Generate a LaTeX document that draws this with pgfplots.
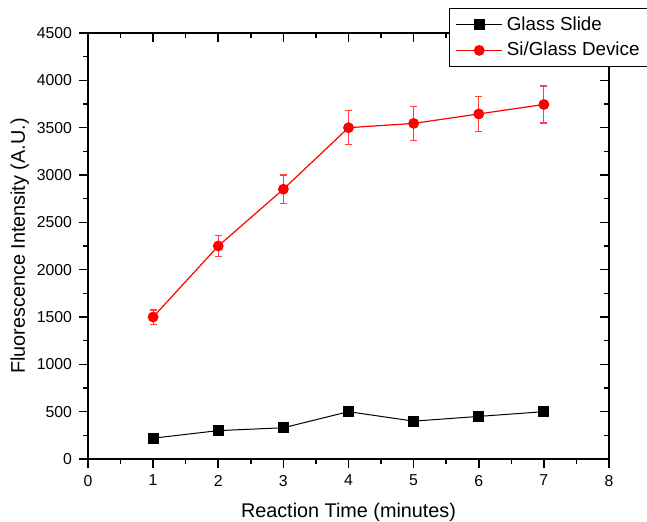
\documentclass[border=0pt]{standalone}
\usepackage{fontspec}
\setmainfont{Liberation Sans}
\usepackage{pgfplots}
\pgfplotsset{compat=1.18}
\begin{document}
\begin{tikzpicture}
\path[use as bounding box] (-44pt,-31pt) rectangle (279.5pt,229.5pt);
\pgfplotsset{frame/.style={
    scale only axis, width=260.5pt, height=213pt,
    xmin=0, xmax=8, ymin=0, ymax=4500,
    xtick={0,...,8}, ytick={0,500,...,4500},
    minor x tick num=1, minor y tick num=1,
    major tick length=4.5pt, minor tick length=2.5pt,
    axis line style={line width=0.9pt},
    every tick/.style={black, line width=0.8pt},
}}
% top and right: ticks inside, no labels
\begin{axis}[frame, xtick pos=right, ytick pos=right, tick align=inside,
    xticklabels={}, yticklabels={}]
\end{axis}
\begin{axis}[frame,
    xtick pos=left, ytick pos=left, tick align=outside,
    ticklabel style={font=\fontsize{7.9}{9}\selectfont},
    /pgf/number format/assume math mode=true,
    /pgf/number format/1000 sep={},
    xlabel={Reaction Time (minutes)},
    ylabel={Fluorescence Intensity (A.U.)},
    label style={font=\fontsize{9.9}{12}\selectfont},
    xlabel style={yshift=-1.5pt},
    ylabel style={yshift=-3pt},
    legend style={at={(0.693,1.059)}, anchor=north west, draw=black,
        line width=0.6pt, fill=white, font=\fontsize{9.4}{11}\selectfont,
        inner xsep=3pt, inner ysep=2pt, row sep=0.5pt},
    legend cell align=left,
    legend image code/.code={\draw[mark repeat=2,mark phase=2]
        plot coordinates {(0pt,0pt)(11.5pt,0pt)(23pt,0pt)};},
]
\addplot[black, line width=0.5pt, mark=square*, mark size=2.5pt,
    mark options={solid, fill=black}] coordinates {
    (1,220)(2,300)(3,330)(4,500)(5,400)(6,450)(7,500)
};
\addplot[red, line width=0.6pt, mark=*, mark size=2.4pt,
    mark options={solid, fill=red},
    error bars/.cd, y dir=both, y explicit,
    error bar style={red!75, line width=0.6pt},
    error mark options={rotate=90, red!75, mark size=1.8pt, line width=0.6pt}]
    coordinates {
    (1,1500) +- (0,75)
    (2,2250) +- (0,115)
    (3,2850) +- (0,150)
    (4,3500) +- (0,180)
    (5,3545) +- (0,180)
    (6,3645) +- (0,185)
    (7,3745) +- (0,195)
};
\legend{Glass Slide, Si/Glass Device}
\end{axis}
\end{tikzpicture}
\end{document}
